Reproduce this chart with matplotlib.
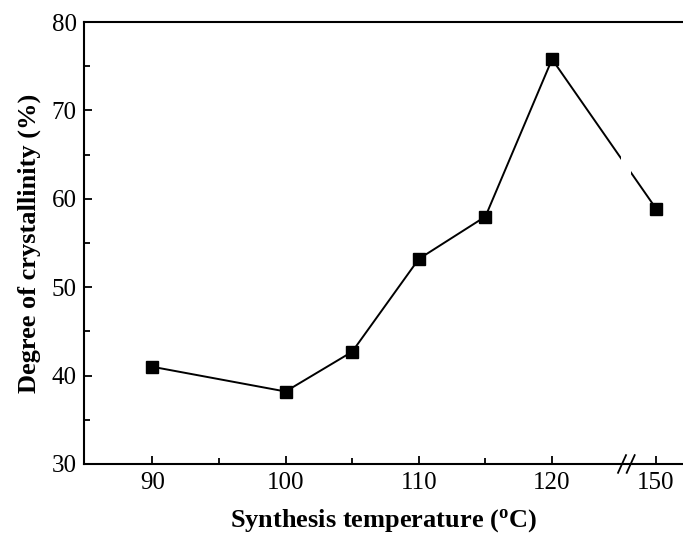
import matplotlib
matplotlib.use("Agg")
import matplotlib.pyplot as plt
import numpy as np

# data
temps = [90, 100, 105, 110, 115, 120, 150]
cryst = [41.0, 38.2, 42.7, 53.2, 58.0, 75.8, 58.9]
major_ticks = [90, 100, 110, 120, 150]
minor_ticks = [95, 105, 115]

# broken x axis: 150 is drawn just after the break
brk = 125.6
def xpos(t):
    t = np.asarray(t, dtype=float)
    return np.where(t <= 120, t, 127.8 + (t - 150))

plt.rcParams['font.family'] = 'Liberation Serif'
plt.rcParams['mathtext.fontset'] = 'custom'
plt.rcParams['mathtext.rm'] = 'Liberation Serif'
plt.rcParams['mathtext.bf'] = 'Liberation Serif:bold'

fig = plt.figure(figsize=(6.83, 5.33), dpi=100)
ax = fig.add_axes([0.1235, 0.1295, 0.876, 0.829])

ax.plot(xpos(temps), cryst, color="black", lw=1.4, marker="s", ms=9, zorder=2)
# white gap in the line at the break
ax.axvspan(brk - 0.4, brk + 0.35, color="white", zorder=2.2, lw=0)

ax.set_xlim(84.9, 129.8)
ax.set_ylim(30, 80)
ax.set_xticks(xpos(major_ticks))
ax.set_xticklabels([str(t) for t in major_ticks])
ax.set_xticks(xpos(minor_ticks), minor=True)
ax.set_yticks(np.arange(30, 81, 10))
ax.set_yticks(np.arange(35, 80, 10), minor=True)

ax.tick_params(which="both", direction="in", width=1.3, labelsize=18, pad=5.5)
ax.tick_params(which="major", length=6)
ax.tick_params(which="minor", length=4)
ax.tick_params(axis="x", pad=6)
for s in ax.spines.values():
    s.set_linewidth(1.5)
ax.spines["right"].set_visible(False)

# break marks on the x axis
trans = ax.get_xaxis_transform()
for dx in (-0.35, 0.3):
    ax.plot([brk + dx - 0.3, brk + dx + 0.3], [-0.02, 0.02], color="black",
            lw=1.3, transform=trans, clip_on=False, zorder=3)

ax.set_xlabel(r'Synthesis temperature ($\mathbf{^o}$C)', fontsize=19, fontweight="bold", labelpad=9)
ax.set_ylabel('Degree of crystallinity (%)', fontsize=19, fontweight="bold", labelpad=8)

fig.savefig("out.png", dpi=100)
